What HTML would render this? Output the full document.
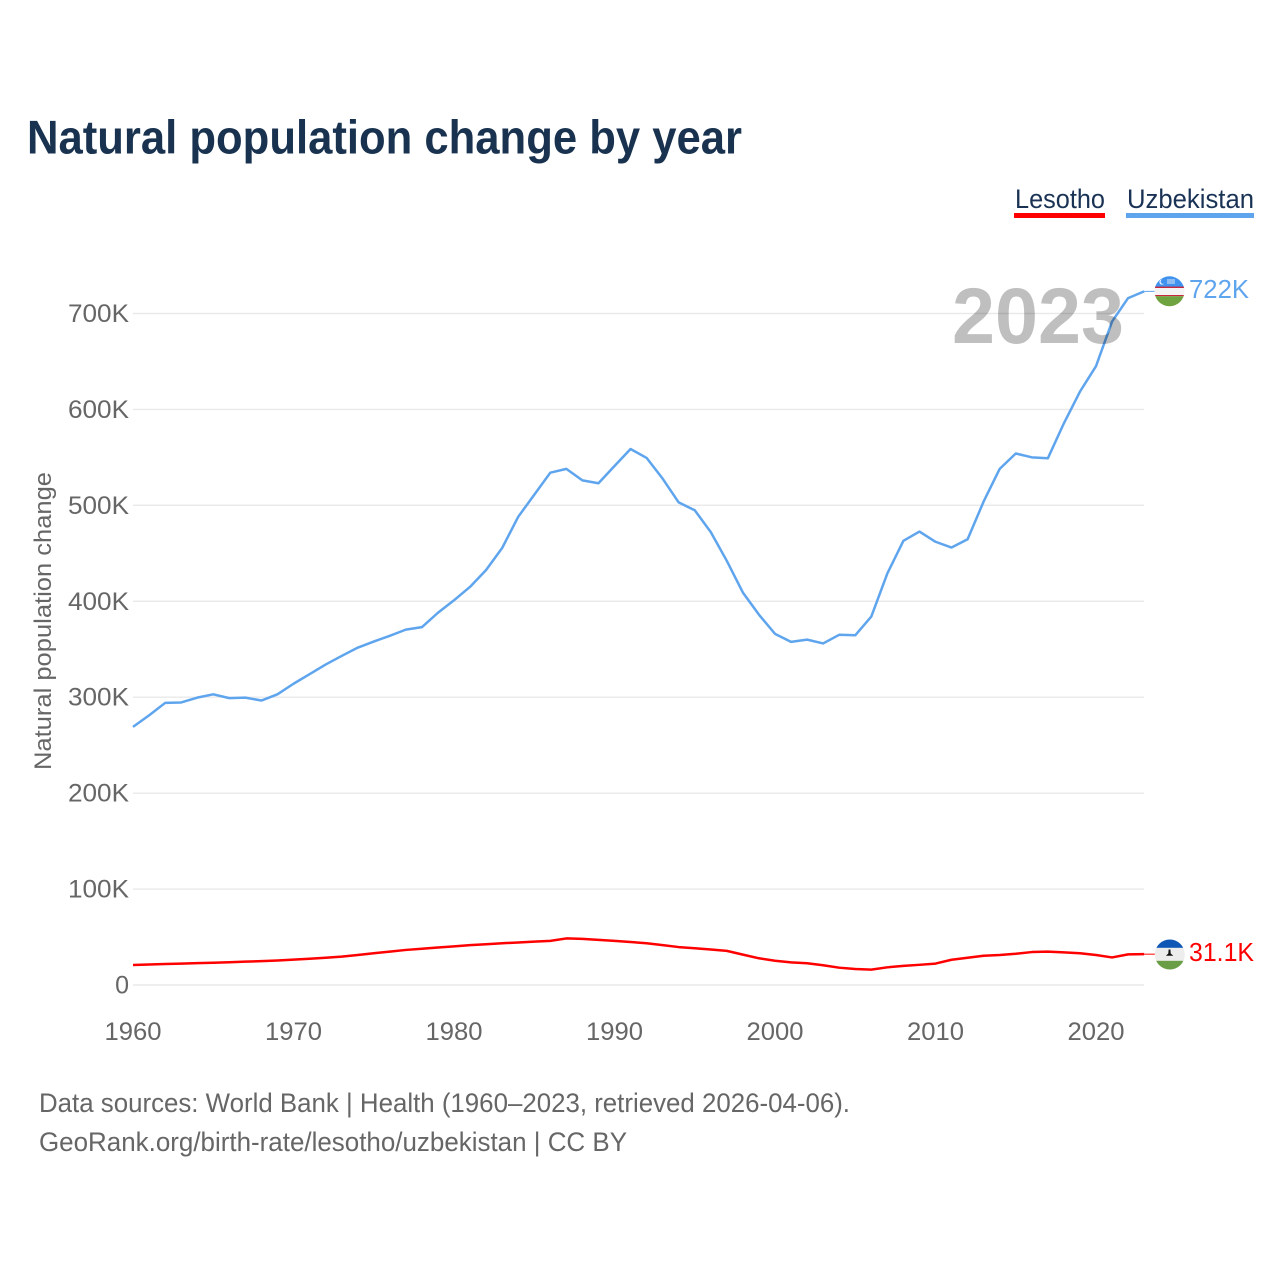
<!DOCTYPE html>
<html lang="en">
<head>
<meta charset="utf-8">
<title>Natural population change by year</title>
<style>
html,body{margin:0;padding:0;background:#fff;width:1280px;height:1280px;overflow:hidden}
svg{display:block;font-family:"Liberation Sans",sans-serif}
</style>
</head>
<body>
<svg id="chart" xmlns="http://www.w3.org/2000/svg" width="1280" height="1280" viewBox="0 0 1280 1280">
  <rect width="1280" height="1280" fill="#ffffff"/>
  <text x="27" y="153.5" font-size="47" font-weight="700" fill="#18324f" textLength="715" lengthAdjust="spacingAndGlyphs">Natural population change by year</text>

  <g>
    <text x="1015" y="208" font-size="26.5" fill="#1a3355" textLength="90" lengthAdjust="spacingAndGlyphs">Lesotho</text>
    <rect x="1014" y="213" width="91" height="5" fill="#ff0000"/>
  </g>
  <g>
    <text x="1127" y="208" font-size="26.5" fill="#1a3355" textLength="127" lengthAdjust="spacingAndGlyphs">Uzbekistan</text>
    <rect x="1126" y="213" width="128" height="5" fill="#5fa5ee"/>
  </g>

  <text transform="translate(51,621) rotate(-90)" text-anchor="middle" font-size="24" fill="#666666" textLength="298" lengthAdjust="spacingAndGlyphs">Natural population change</text>

  <g id="grid"></g>
  <g id="y-ticks"></g>
  <g id="x-ticks"></g>
  <g id="series"></g>

  <text x="952" y="343" font-size="79" font-weight="700" fill="#000000" fill-opacity="0.25" textLength="172" lengthAdjust="spacingAndGlyphs">2023</text>

  <defs>
    <clipPath id="flag-clip-uz"><circle cx="1169.5" cy="291.3" r="15"/></clipPath>
    <clipPath id="flag-clip-ls"><circle cx="1169.8" cy="954.5" r="15"/></clipPath>
  </defs>
  <g clip-path="url(#flag-clip-uz)">
    <rect x="1154" y="276" width="31" height="11" fill="#3f93ee"/>
    <rect x="1154" y="286.6" width="31" height="1.4" fill="#c8283c"/>
    <rect x="1154" y="288" width="31" height="7" fill="#f4f4f4"/>
    <rect x="1154" y="295" width="31" height="1.2" fill="#c8283c"/>
    <rect x="1154" y="296.2" width="31" height="11" fill="#6fa33f"/>
    <circle cx="1162" cy="282" r="2.6" fill="#eaf3ff"/>
    <circle cx="1163" cy="281.6" r="2.3" fill="#3f93ee"/>
    <rect x="1167" y="279" width="8" height="5" fill="#8fbdf2"/>
  </g>
  <g clip-path="url(#flag-clip-ls)">
    <rect x="1154" y="939" width="32" height="9" fill="#0f57b5"/>
    <rect x="1154" y="947.8" width="32" height="13" fill="#ededed"/>
    <rect x="1154" y="960.8" width="32" height="10" fill="#6a9e46"/>
    <path d="M1168.6 949.5 l1.8 0 l0.3 4 l2.6 2.3 l-7.4 0 l2.4 -2.3 z" fill="#111111"/>
  </g>
  <text id="label-uz" x="1189" y="298" font-size="25.5" fill="#5fa5ee" textLength="60" lengthAdjust="spacingAndGlyphs"></text>
  <text id="label-ls" x="1189" y="961" font-size="25.5" fill="#ff0000" textLength="65" lengthAdjust="spacingAndGlyphs"></text>

  <text x="39" y="1112" font-size="27" fill="#666666" textLength="811" lengthAdjust="spacingAndGlyphs">Data sources: World Bank | Health (1960–2023, retrieved 2026-04-06).</text>
  <text x="39" y="1151" font-size="27" fill="#666666" textLength="588" lengthAdjust="spacingAndGlyphs">GeoRank.org/birth-rate/lesotho/uzbekistan | CC BY</text>
</svg>
<script>
const startYear = 1960;
const yTickValues = [0, 100, 200, 300, 400, 500, 600, 700];
const yTickLabels = ["0", "100K", "200K", "300K", "400K", "500K", "600K", "700K"];
const xTickYears = [1960, 1970, 1980, 1990, 2000, 2010, 2020];
const uzbekistanValues = [268, 280, 293, 293.5, 298.5, 302, 298, 298.5, 295.5, 302, 313, 323, 333, 342, 350.6, 357, 363, 369.4, 372, 387, 400, 414, 431.6, 454.5, 487, 510, 533, 537, 525, 522, 540, 557.7, 548.4, 526.8, 502, 493.8, 471, 441, 408, 385, 365, 356.6, 359, 355, 364, 363.5, 383, 428, 462, 471.6, 461, 455, 463.6, 503, 537, 553, 549, 548, 584.5, 617.5, 644, 690.5, 715, 722];
const lesothoValues = [19.8, 20.3, 20.8, 21.2, 21.7, 22.2, 22.7, 23.3, 23.8, 24.5, 25.4, 26.3, 27.4, 28.5, 30.2, 32, 33.8, 35.5, 36.8, 38, 39.2, 40.5, 41.5, 42.5, 43.3, 44.2, 45, 47.5, 47, 46, 45, 43.8, 42.5, 40.5, 38.5, 37.3, 36, 34.5, 30.6, 26.8, 24.2, 22.6, 21.6, 19.5, 17, 15.6, 15, 17.4, 18.9, 20, 21.3, 25.3, 27.4, 29.4, 30.2, 31.5, 33.3, 33.7, 33, 32, 30.2, 27.7, 30.9, 31.1];
const endLabelUzbekistan = "722K";
const endLabelLesotho = "31.1K";

const NS = "http://www.w3.org/2000/svg";
function xScale(year) { return 133 + (year - startYear) * 16.05; }
function yScale(value) { return 984 - value * 0.9593; }
function yearOf(index) { return startYear + index; }
function linePath(values) {
  return values.map(function (v, i) {
    return (i ? "L" : "M") + xScale(yearOf(i)).toFixed(2) + " " + yScale(v).toFixed(2);
  }).join(" ");
}

const grid = document.getElementById("grid");
const yTicks = document.getElementById("y-ticks");
yTickValues.forEach(function (v, i) {
  const py = yScale(v) + 1;
  const line = document.createElementNS(NS, "line");
  
  
  line.setAttribute("x1", 133);
  line.setAttribute("x2", 1144);
  line.setAttribute("y1", py);
  line.setAttribute("y2", py);
  line.setAttribute("stroke", "#e9e9e9");
  line.setAttribute("stroke-width", 1.4);
  grid.appendChild(line);
  const label = document.createElementNS(NS, "text");
  
  
  label.setAttribute("x", 129);
  label.setAttribute("y", py + 8.5);
  label.setAttribute("text-anchor", "end");
  label.setAttribute("font-size", 25);
  label.setAttribute("fill", "#666666");
  label.textContent = yTickLabels[i];
  if (yTickLabels[i].length > 1) {
    label.setAttribute("textLength", 61);
    label.setAttribute("lengthAdjust", "spacingAndGlyphs");
  }
  yTicks.appendChild(label);
});

const xTicks = document.getElementById("x-ticks");
xTickYears.forEach(function (year) {
  const label = document.createElementNS(NS, "text");
  
  
  label.setAttribute("x", xScale(year));
  label.setAttribute("y", 1040);
  label.setAttribute("text-anchor", "middle");
  label.setAttribute("font-size", 25);
  label.setAttribute("fill", "#666666");
  label.setAttribute("textLength", 57);
  label.setAttribute("lengthAdjust", "spacingAndGlyphs");
  label.textContent = String(year);
  xTicks.appendChild(label);
});

const series = document.getElementById("series");

const lesothoLine = document.createElementNS(NS, "path");


lesothoLine.setAttribute("d", linePath(lesothoValues));
lesothoLine.setAttribute("fill", "none");
lesothoLine.setAttribute("stroke", "#ff0000");
lesothoLine.setAttribute("stroke-width", 2.5);
lesothoLine.setAttribute("stroke-linejoin", "round");
series.appendChild(lesothoLine);

const uzbekistanLine = document.createElementNS(NS, "path");


uzbekistanLine.setAttribute("d", linePath(uzbekistanValues));
uzbekistanLine.setAttribute("fill", "none");
uzbekistanLine.setAttribute("stroke", "#5fa5ee");
uzbekistanLine.setAttribute("stroke-width", 2.5);
uzbekistanLine.setAttribute("stroke-linejoin", "round");
series.appendChild(uzbekistanLine);

const endX = xScale(yearOf(uzbekistanValues.length - 1));

const leaderUz = document.createElementNS(NS, "line");


leaderUz.setAttribute("x1", endX);
leaderUz.setAttribute("x2", 1156);
leaderUz.setAttribute("y1", yScale(uzbekistanValues[uzbekistanValues.length - 1]));
leaderUz.setAttribute("y2", yScale(uzbekistanValues[uzbekistanValues.length - 1]));
leaderUz.setAttribute("stroke", "#5fa5ee");
leaderUz.setAttribute("stroke-width", 1);
series.appendChild(leaderUz);

const leaderLs = document.createElementNS(NS, "line");


leaderLs.setAttribute("x1", endX);
leaderLs.setAttribute("x2", 1156);
leaderLs.setAttribute("y1", yScale(lesothoValues[lesothoValues.length - 1]));
leaderLs.setAttribute("y2", yScale(lesothoValues[lesothoValues.length - 1]));
leaderLs.setAttribute("stroke", "#ff0000");
leaderLs.setAttribute("stroke-width", 1);
series.appendChild(leaderLs);

document.getElementById("label-uz").textContent = endLabelUzbekistan;
document.getElementById("label-ls").textContent = endLabelLesotho;
</script>
</body>
</html>
